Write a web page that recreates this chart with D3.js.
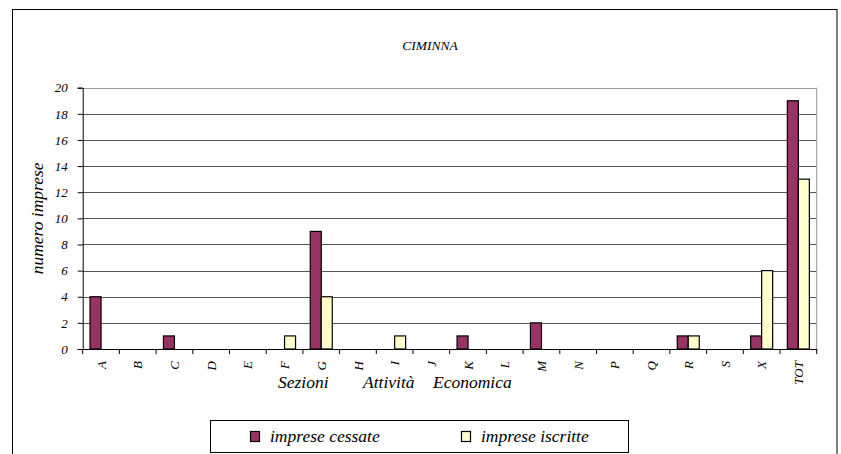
<!DOCTYPE html>
<html>
<head>
<meta charset="utf-8">
<script src="https://cdn.jsdelivr.net/npm/d3@7"></script>
</head>
<body style="margin:0">
<svg id="chart" width="841" height="454">
<text x="430" y="50" font-size="13.5" font-family="Liberation Serif" font-style="italic" text-anchor="middle">CIMINNA</text>
</svg>
<script>
const categories = ["A", "B", "C", "D", "E", "F", "G", "H", "I", "J", "K", "L", "M", "N", "P", "Q", "R", "S", "X", "TOT"];
const cessate = [4, 0, 1, 0, 0, 0, 9, 0, 0, 0, 1, 0, 2, 0, 0, 0, 1, 0, 1, 19];
const iscritte = [0, 0, 0, 0, 0, 1, 4, 0, 1, 0, 0, 0, 0, 0, 0, 0, 1, 0, 6, 13];
const seriesNames = ["imprese cessate", "imprese iscritte"];
const seriesColors = ["#993366", "#FFFFCC"];
const yTicks = [0, 2, 4, 6, 8, 10, 12, 14, 16, 18, 20];

const plot = { left: 82.7, right: 816.7, top: 87.7, bottom: 349 };
const serif = "Liberation Serif";

const svg = d3.select("#chart");

// cornice esterna
svg.insert("rect", ":first-child")
    .attr("x", 12.5).attr("y", 9.5)
    .attr("width", 824.5).attr("height", 460)
    .attr("fill", "none").attr("stroke", "#000").attr("stroke-width", 1);

const x = d3.scaleBand().domain(categories).range([plot.left, plot.right]);
const y = d3.scaleLinear().domain([0, 20]).range([plot.bottom, plot.top]);

// griglia
svg.append("g").selectAll("line")
    .data(yTicks.filter(d => d > 0))
    .enter().append("line")
    .attr("x1", plot.left).attr("x2", plot.right)
    .attr("y1", d => Math.round(y(d)) + 0.5).attr("y2", d => Math.round(y(d)) + 0.5)
    .attr("stroke", d => d === 20 ? "#999" : "#555");

// bordo destro area del grafico
svg.append("line")
    .attr("x1", plot.right).attr("x2", plot.right)
    .attr("y1", plot.top).attr("y2", plot.bottom)
    .attr("stroke", "#999");

// barre
const barW = 11;
const groupOffset = (x.bandwidth() - barW * 2) / 2;
const series = [cessate, iscritte];
series.forEach((vals, si) => {
    svg.append("g").selectAll("rect")
        .data(vals.map((v, i) => ({ cat: categories[i], v })).filter(d => d.v > 0))
        .enter().append("rect")
        .attr("x", d => x(d.cat) + groupOffset + si * barW)
        .attr("y", d => y(d.v))
        .attr("width", barW)
        .attr("height", d => y(0) - y(d.v))
        .attr("fill", seriesColors[si])
        .attr("stroke", "#000")
        .attr("stroke-width", 1.2);
});

// asse y
const yAxis = svg.append("g")
    .attr("transform", `translate(${plot.left},0)`)
    .call(d3.axisLeft(y).tickValues(yTicks).tickSize(5).tickPadding(10));
yAxis.attr("font-family", serif).attr("font-size", 13);
yAxis.selectAll("text").attr("font-style", "italic").attr("fill", "#000");
yAxis.selectAll("line, path").attr("stroke", "#000");

// asse x
const xAxis = svg.append("g")
    .attr("transform", `translate(0,${plot.bottom})`)
    .call(d3.axisBottom(x).tickSize(0).tickSizeOuter(0));
xAxis.attr("font-family", serif).attr("font-size", 13);
xAxis.select(".domain").attr("stroke", "#000");
xAxis.selectAll("text")
    .attr("font-style", "italic").attr("fill", "#000")
    .attr("transform", "rotate(-90)")
    .attr("x", -12).attr("y", 0).attr("dy", "0.35em")
    .attr("text-anchor", "end");
// tacche tra le categorie
svg.append("g").selectAll("line")
    .data(categories.concat(["__end"]))
    .enter().append("line")
    .attr("x1", (d, i) => i < categories.length ? x(d) : plot.right)
    .attr("x2", (d, i) => i < categories.length ? x(d) : plot.right)
    .attr("y1", plot.bottom).attr("y2", plot.bottom + 5)
    .attr("stroke", "#000");

function label(sel, size) {
    return sel.attr("font-family", serif).attr("font-style", "italic").attr("font-size", size);
}

// titoli assi
label(svg.append("text"), 17.5)
    .attr("transform", `translate(43,${(plot.top + plot.bottom) / 2}) rotate(-90)`)
    .attr("text-anchor", "middle")
    .text("numero imprese");

const xTitle = label(svg.append("text"), 17.5).attr("y", 388);
xTitle.append("tspan").attr("x", 278).text("Sezioni");
xTitle.append("tspan").attr("x", 363).text("Attività");
xTitle.append("tspan").attr("x", 433).text("Economica");

// legenda
const legend = svg.append("g");
legend.append("rect")
    .attr("x", 210.5).attr("y", 420.5)
    .attr("width", 418).attr("height", 32)
    .attr("fill", "#fff").attr("stroke", "#000");
const legendX = [250, 461];
seriesNames.forEach((name, i) => {
    legend.append("rect")
        .attr("x", legendX[i] + 0.5).attr("y", 431.5)
        .attr("width", 9).attr("height", 10)
        .attr("fill", seriesColors[i]).attr("stroke", "#000").attr("stroke-width", 1.2);
    label(legend.append("text"), 17.5)
        .attr("x", legendX[i] + 20).attr("y", 442)
        .text(name);
});
</script>
</body>
</html>
